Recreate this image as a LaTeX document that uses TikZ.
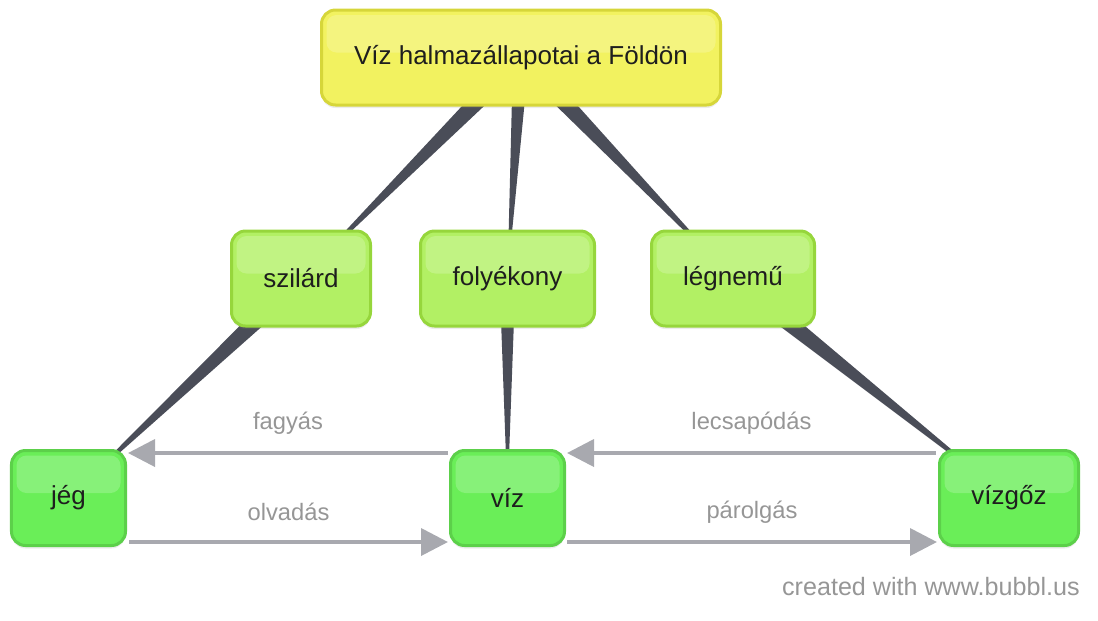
\documentclass[tikz,border=0pt]{standalone}
\usepackage{fontspec}
\setmainfont{Liberation Sans}
\usetikzlibrary{arrows.meta,calc,backgrounds,shadows}
\definecolor{rootfill}{RGB}{242,242,96}
\definecolor{rootline}{RGB}{214,214,58}
\definecolor{midfill}{RGB}{178,240,100}
\definecolor{midline}{RGB}{150,214,60}
\definecolor{lowfill}{RGB}{106,238,88}
\definecolor{lowline}{RGB}{92,208,74}
\definecolor{wedgegrey}{RGB}{74,77,88}
\definecolor{arrgrey}{RGB}{168,169,175}
\definecolor{lblgrey}{RGB}{150,150,150}
\definecolor{nodetext}{RGB}{30,30,30}

\begin{document}
\begin{tikzpicture}[
    basebox/.style={rectangle, rounded corners=0.28cm, line width=0.06cm,
        minimum height=1.9cm, font=\fontsize{14.8}{17}\selectfont, text=nodetext,
        drop shadow={opacity=0.15, shadow xshift=0cm, shadow yshift=-0.06cm},
        path picture={\fill[white, opacity=0.2, rounded corners=0.2cm]
            ($(path picture bounding box.north west)+(0.1,-0.1)$) rectangle
            ($(path picture bounding box.east)+(-0.1,0.1)$);}},
    rootbox/.style={basebox, fill=rootfill, draw=rootline},
    formbox/.style={basebox, fill=midfill, draw=midline},
    statebox/.style={basebox, fill=lowfill, draw=lowline},
    wedge/.style={fill=wedgegrey},
    arr/.style={-{Triangle[length=0.54cm, width=0.54cm]}, line width=0.075cm, arrgrey},
    lbl/.style={font=\fontsize{13.5}{16}\selectfont, text=lblgrey, yshift=0.6cm}
]
    \useasboundingbox (0,0) rectangle (21.96,-12.4);

    \node[rootbox, minimum width=7.98cm] (root) at (10.42,-1.15) {Víz halmazállapotai a Földön};

    \node[formbox, minimum width=2.78cm] (solid) at (6.02,-5.57) {szilárd};
    \node[formbox, minimum width=3.48cm] (liquid) at (10.15,-5.57) {folyékony};
    \node[formbox, minimum width=3.26cm] (gas) at (14.66,-5.57) {légnemű};

    \node[statebox, minimum width=2.28cm] (ice) at (1.37,-9.96) {jég};
    \node[statebox, minimum width=2.28cm] (water) at (10.15,-9.96) {víz};
    \node[statebox, minimum width=2.78cm] (vapour) at (20.18,-9.96) {vízgőz};

    % tapered links, behind the boxes
    \begin{scope}[on background layer]
        \fill[wedge] ($(root.center)!0.2cm!90:(solid.center)$) -- ($(root.center)!0.2cm!-90:(solid.center)$) -- (solid.center) -- cycle;
        \fill[wedge] ($(root.center)!0.16cm!90:(liquid.center)$) -- ($(root.center)!0.16cm!-90:(liquid.center)$) -- (liquid.center) -- cycle;
        \fill[wedge] ($(root.center)!0.2cm!90:(gas.center)$) -- ($(root.center)!0.2cm!-90:(gas.center)$) -- (gas.center) -- cycle;
        \fill[wedge] ($(solid.center)!0.2cm!90:(ice.center)$) -- ($(solid.center)!0.2cm!-90:(ice.center)$) -- (ice.center) -- cycle;
        \fill[wedge] ($(liquid.center)!0.16cm!90:(water.center)$) -- ($(liquid.center)!0.16cm!-90:(water.center)$) -- (water.center) -- cycle;
        \fill[wedge] ($(gas.center)!0.2cm!90:(vapour.center)$) -- ($(gas.center)!0.2cm!-90:(vapour.center)$) -- (vapour.center) -- cycle;
    \end{scope}

    \draw[arr] ([xshift=-0.02cm, yshift=0.9cm]water.west) -- ([xshift=0.02cm, yshift=0.9cm]ice.east) node[midway, lbl] {fagyás};
    \draw[arr] ([xshift=0.04cm, yshift=-0.88cm]ice.east) -- ([xshift=-0.02cm, yshift=-0.88cm]water.west) node[midway, lbl] {olvadás};
    \draw[arr] ([xshift=-0.04cm, yshift=0.9cm]vapour.west) -- ([xshift=0.02cm, yshift=0.9cm]water.east) node[midway, lbl] {lecsapódás};
    \draw[arr] ([xshift=0.02cm, yshift=-0.88cm]water.east) -- ([xshift=-0.02cm, yshift=-0.88cm]vapour.west) node[midway, lbl] {párolgás};

    \node[anchor=east, inner sep=0pt, font=\fontsize{14.3}{17}\selectfont, text=lblgrey] (credit) at (21.6,-11.74) {created with www.bubbl.us};
\end{tikzpicture}
\end{document}
